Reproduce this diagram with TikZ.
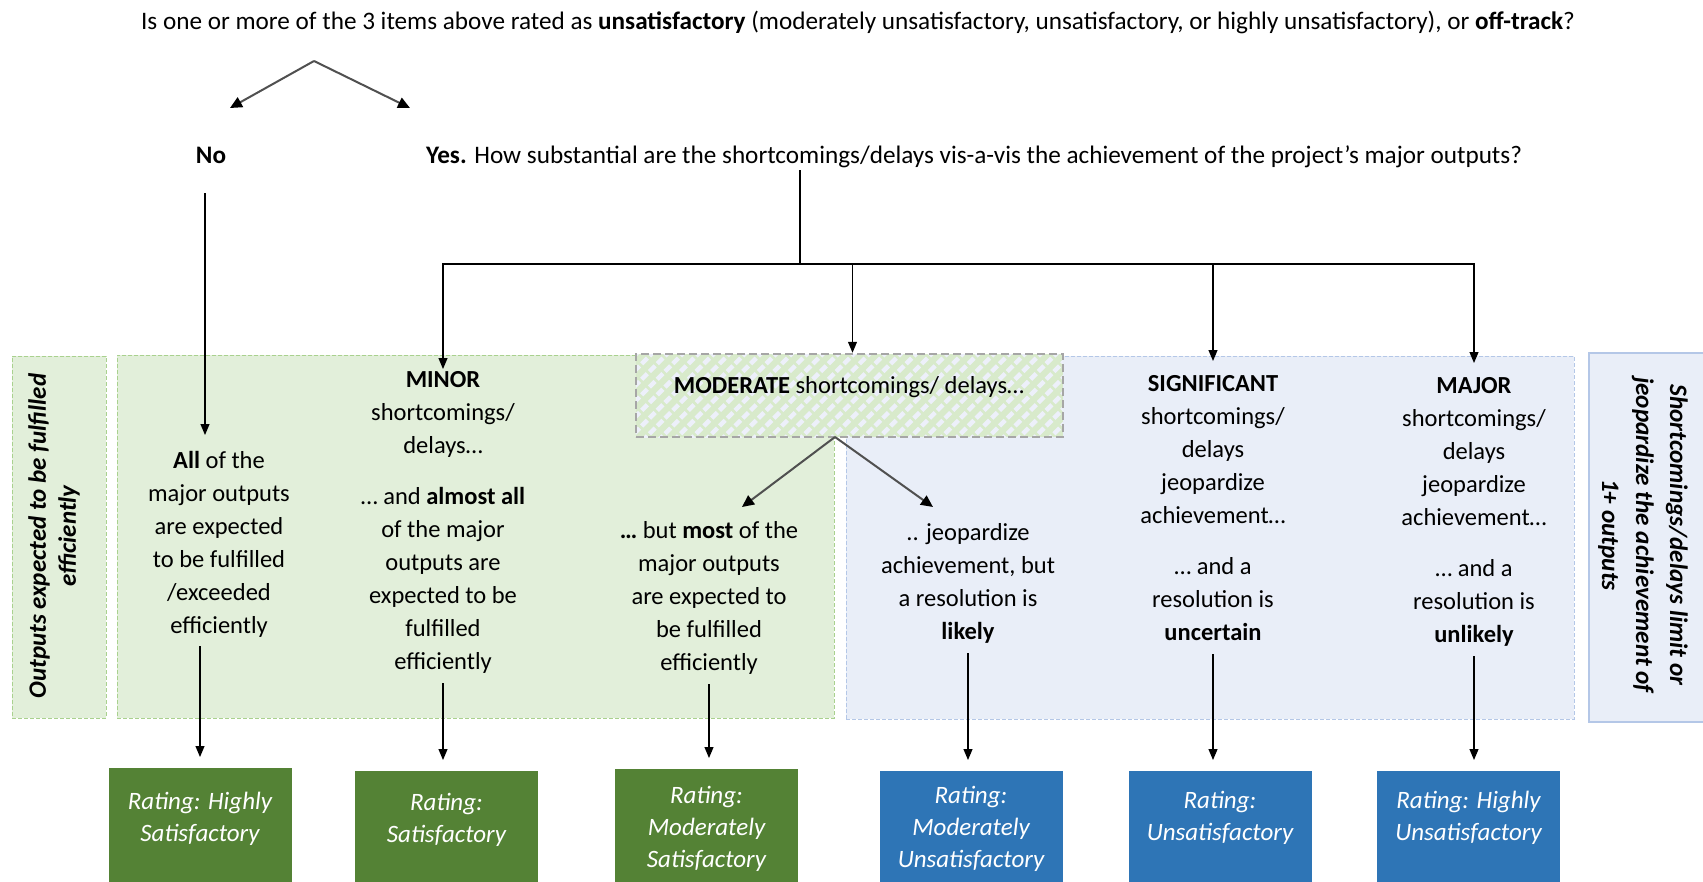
\documentclass[tikz,border=0pt]{standalone}
\usepackage{fontspec}
\setmainfont{Carlito}
\usetikzlibrary{arrows.meta,patterns.meta}
\definecolor{lgreen}{HTML}{E2EFDA}
\definecolor{bgreen}{HTML}{A9D18E}
\definecolor{lblue}{HTML}{E9EEF8}
\definecolor{bblue}{HTML}{B4C7E7}
\definecolor{dgreen}{HTML}{548235}
\definecolor{dblue}{HTML}{2E75B6}
\definecolor{hatchln}{HTML}{EDF0FA}
\definecolor{hatchbg}{HTML}{D8EACB}
\definecolor{modborder}{HTML}{A6A6A6}
\definecolor{chev}{HTML}{505050}
\newcommand{\fstr}{\rule{0pt}{18pt}}
\newcommand{\lstr}{\rule[-7pt]{0pt}{7pt}}
\tikzset{
  arr/.style={draw=black, line width=1.1pt, -{Triangle[length=11pt,width=9pt]}},
  garr/.style={draw=chev, line width=2pt, -{Triangle[length=12pt,width=11pt,color=black]}},
  blk/.style={anchor=north, inner sep=0pt, align=center, font=\fontsize{24.5}{33}\selectfont},
  region/.style={rectangle, inner sep=0pt, line width=1pt, dash pattern=on 4pt off 2pt},
  rating/.style={rectangle, anchor=north, inner sep=0pt, minimum width=183pt, minimum height=150pt},
  rtext/.style={anchor=north, inner sep=0pt, align=center, text=white, font=\fontsize{25}{32}\selectfont\itshape},
  side/.style={inner sep=0pt, align=center},
  toptext/.style={inner sep=0pt, font=\fontsize{25.2}{30}\selectfont},
}
\begin{document}
\begin{tikzpicture}[x=1pt,y=-1pt]
\useasboundingbox (0,0) rectangle (1703,881);
\fill[white] (0,0) rectangle (1703,881);
\clip (0,0) rectangle (1703,881);

% background regions
\node[region, fill=lgreen, draw=bgreen, minimum width=94pt, minimum height=362pt] (lbox) at (59,537) {};
\node[region, fill=lgreen, draw=bgreen, minimum width=717pt, minimum height=363pt] (greg) at (475.5,536.5) {};
\node[region, fill=lblue, draw=bblue, minimum width=728pt, minimum height=363pt] (breg) at (1210,537.5) {};
\node[rectangle, inner sep=0pt, fill=lblue, draw=bblue, line width=1.5pt, minimum width=132pt, minimum height=369pt] (rlab) at (1655,537.5) {};
\node[rectangle, inner sep=0pt, preaction={fill=hatchbg}, pattern={Lines[angle=45,distance=11pt,line width=4.5pt]}, pattern color=hatchln, draw=modborder, line width=2.5pt, dash pattern=on 8pt off 4pt, minimum width=427pt, minimum height=83pt] (mod) at (849.5,395.5) {};

% side labels
\node[side, rotate=90, font=\fontsize{25}{30}\selectfont\bfseries\itshape] (ltxt) at (54,536) {Outputs expected to be fulfilled\\efficiently};
\node[side, rotate=-90, font=\fontsize{25.2}{34}\selectfont\bfseries\itshape] (rtxt) at (1643,535) {Shortcomings/delays limit or\\jeopardize the achievement of\\1+ outputs};

% top texts
\node[toptext, anchor=base] (title) at (858,29) {Is one or more of the 3 items above rated as \textbf{unsatisfactory} (moderately unsatisfactory, unsatisfactory, or highly unsatisfactory), or \textbf{off-track}?};
\node[toptext, anchor=base] (no) at (211,163) {\textbf{No}};
\node[toptext, anchor=base west] (yes) at (426,163) {\textbf{Yes.} How substantial are the shortcomings/delays vis-a-vis the achievement of the project’s major outputs?};
\coordinate (apex) at (314,61);
\coordinate (notip) at (230,108);
\coordinate (yestip) at (410,108);
\coordinate (nodrop) at (205,193);
\coordinate (ydrop) at (800,170);
\coordinate (bus) at (800,264);
\coordinate (modsplit) at (835,437);
\coordinate (mlt) at (742,507);
\coordinate (mrt) at (933,507);

% text blocks
\node[blk] (allt) at (219,450) {\fstr\textbf{All} of the\\major outputs\\are expected\\to be fulfilled\\/exceeded\\efficiently\lstr};
\node[blk] (minor) at (443,369) {\fstr\textbf{MINOR}\\shortcomings/\\delays…\\[18pt]… and \textbf{almost all}\\of the major\\outputs are\\expected to be\\fulfilled\\efficiently\lstr};
\node[anchor=base, inner sep=0pt, font=\fontsize{24.5}{33}\selectfont] (modt) at (849,393) {\textbf{MODERATE} shortcomings/ delays…};
\node[blk] (modl) at (709,520) {\fstr\textbf{…} but \textbf{most} of the\\major outputs\\are expected to\\be fulfilled\\efficiently\lstr};
\node[blk] (modr) at (968,522) {\fstr.. jeopardize\\achievement, but\\a resolution is\\\textbf{likely}\lstr};
\node[blk] (sig) at (1213,373) {\fstr\textbf{SIGNIFICANT}\\shortcomings/\\delays\\jeopardize\\achievement…\\[18pt]… and a\\resolution is\\\textbf{uncertain}\lstr};
\node[blk] (maj) at (1474,375) {\fstr\textbf{MAJOR}\\shortcomings/\\delays\\jeopardize\\achievement…\\[18pt]… and a\\resolution is\\\textbf{unlikely}\lstr};

% rating boxes
\node[rating, fill=dgreen] (r1) at (200,768) {};
\node[rating, fill=dgreen] (r2) at (446.5,771) {};
\node[rating, fill=dgreen] (r3) at (706.5,769) {};
\node[rating, fill=dblue] (r4) at (971,771) {};
\node[rating, fill=dblue] (r5) at (1220,771) {};
\node[rating, fill=dblue] (r6) at (1468.5,771) {};
\node[rtext] (r1t) at (200,791) {\fstr Rating: Highly\\Satisfactory};
\node[rtext] (r2t) at (446.5,792) {\fstr Rating:\\Satisfactory};
\node[rtext] (r3t) at (706.5,785) {\fstr Rating:\\Moderately\\Satisfactory};
\node[rtext] (r4t) at (971,785) {\fstr Rating:\\Moderately\\Unsatisfactory};
\node[rtext] (r5t) at (1220,790) {\fstr Rating:\\Unsatisfactory};
\node[rtext] (r6t) at (1468.5,790) {\fstr Rating: Highly\\Unsatisfactory};

% connectors
\draw[garr] (apex) -- (notip);
\draw[garr] (apex) -- (yestip);
\draw[arr, shorten >=15pt] (nodrop) -- (nodrop |- allt.north);
\draw[line width=1.1pt] (ydrop) -- (bus);
\draw[arr] (bus) -| (minor.north);
\draw[arr] (bus) -| ([xshift=3pt]mod.north);
\draw[arr, shorten >=12pt] (bus) -| (sig.north);
\draw[arr, shorten >=12pt] (bus) -| (maj.north);
\draw[garr] (modsplit) -- (mlt);
\draw[garr] (modsplit) -- (mrt);
\draw[arr, shorten <=6pt, shorten >=11pt] (r1.north |- allt.south) -- (r1.north);
\draw[arr, shorten <=7pt, shorten >=11pt] (minor.south) -- (minor.south |- r2.north);
\draw[arr, shorten <=7pt, shorten >=11pt] (modl.south) -- (modl.south |- r3.north);
\draw[arr, shorten <=7pt, shorten >=11pt] (modr.south) -- (modr.south |- r4.north);
\draw[arr, shorten <=7pt, shorten >=11pt] (sig.south) -- (sig.south |- r5.north);
\draw[arr, shorten <=7pt, shorten >=11pt] (maj.south) -- (maj.south |- r6.north);
\end{tikzpicture}
\end{document}
